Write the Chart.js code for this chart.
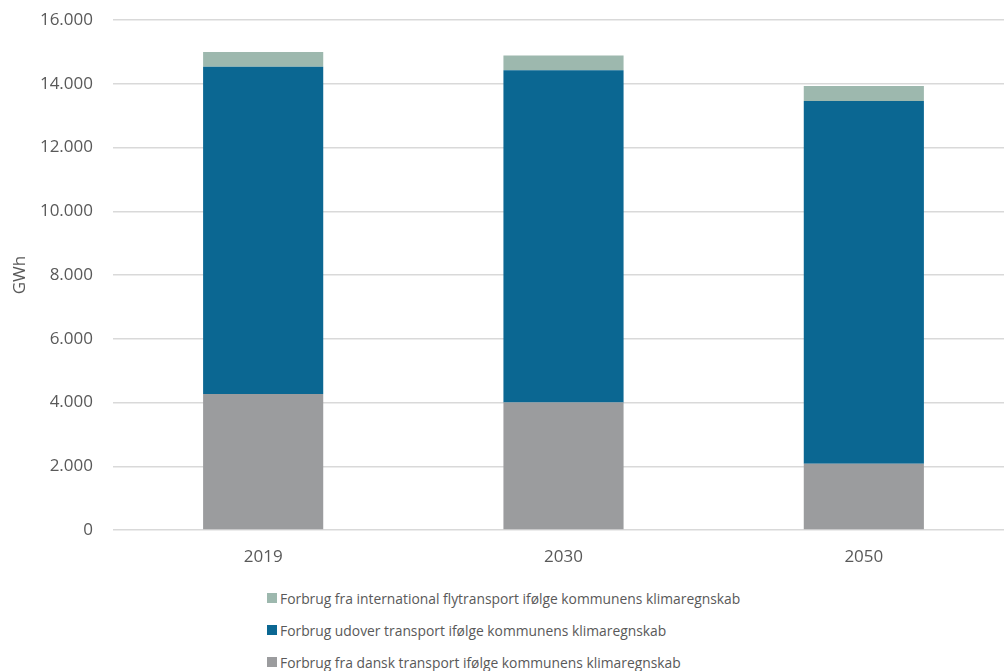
<!DOCTYPE html>
<html>
<head>
<meta charset="utf-8">
<script src="https://cdn.jsdelivr.net/npm/chart.js@4.4.1/dist/chart.umd.min.js"></script>
<style>
  html, body { margin: 0; padding: 0; background: #fff; overflow: hidden; width: 1004px; height: 671px; }
  #wrap { position: relative; width: 1015px; height: 671px; }
  canvas { display: block; }
  #legend { position: absolute; left: 267px; top: 582px; font-family: "Open Sans", sans-serif; font-size: 13.85px; color: #595959; }
  .item { display: flex; align-items: center; height: 32px; white-space: nowrap; }
  .box { width: 10px; height: 10px; margin-right: 3px; }
</style>
</head>
<body>
<div id="wrap">
  <canvas id="c" width="1015" height="580"></canvas>
  <div id="legend"></div>
</div>
<script>
const categories = ["2019", "2030", "2050"];
const danskTransport = [4270, 4000, 2080];
const udoverTransport = [10260, 10420, 11380];
const internationalFly = [470, 470, 470];
const yTicks = [0, 2000, 4000, 6000, 8000, 10000, 12000, 14000, 16000];

const seriesNames = [
  "Forbrug fra dansk transport ifølge kommunens klimaregnskab",
  "Forbrug udover transport ifølge kommunens klimaregnskab",
  "Forbrug fra international flytransport ifølge kommunens klimaregnskab"
];
const seriesColors = ["#9b9c9e", "#0b6792", "#9db8ae"];
const seriesData = [danskTransport, udoverTransport, internationalFly];

const txt = "#595959";
const fontFam = "'Open Sans', sans-serif";

const chart = new Chart(document.getElementById("c"), {
  type: "bar",
  data: {
    labels: categories,
    datasets: seriesData.map((d, i) => ({
      label: seriesNames[i],
      data: d,
      backgroundColor: seriesColors[i],
      borderWidth: 0,
      barPercentage: 0.4,
      categoryPercentage: 1.0
    }))
  },
  options: {
    responsive: false,
    animation: false,
    layout: { padding: { top: 20, right: 1, left: 0, bottom: 0 } },
    plugins: { legend: { display: false }, tooltip: { enabled: false } },
    scales: {
      x: {
        stacked: true,
        grid: { display: false },
        border: { display: false },
        ticks: { color: txt, font: { family: fontFam, size: 17 }, padding: 9 },
        afterFit: s => { s.height = 50; s.paddingLeft = 0; s.paddingRight = 0; }
      },
      y: {
        stacked: true,
        min: 0,
        max: 16000,
        afterBuildTicks: s => { s.ticks = yTicks.map(v => ({ value: v })); },
        grid: { color: "#d9d9d9", lineWidth: 1.5, drawTicks: false },
        border: { display: false },
        ticks: {
          color: txt,
          font: { family: fontFam, size: 17 },
          padding: 20,
          callback: v => v.toLocaleString("de-DE")
        },
        title: { display: true, text: "GWh", color: txt, font: { family: fontFam, size: 17 }, padding: { top: 10, bottom: 0 } },
        afterFit: s => { s.width = 113; s.paddingTop = 0; s.paddingBottom = 0; }
      }
    }
  }
});

const legend = document.getElementById("legend");
[2, 1, 0].forEach(i => {
  const row = document.createElement("div");
  row.className = "item";
  const box = document.createElement("span");
  box.className = "box";
  box.style.background = seriesColors[i];
  const label = document.createElement("span");
  label.textContent = seriesNames[i];
  row.appendChild(box);
  row.appendChild(label);
  legend.appendChild(row);
});
</script>
</body>
</html>
